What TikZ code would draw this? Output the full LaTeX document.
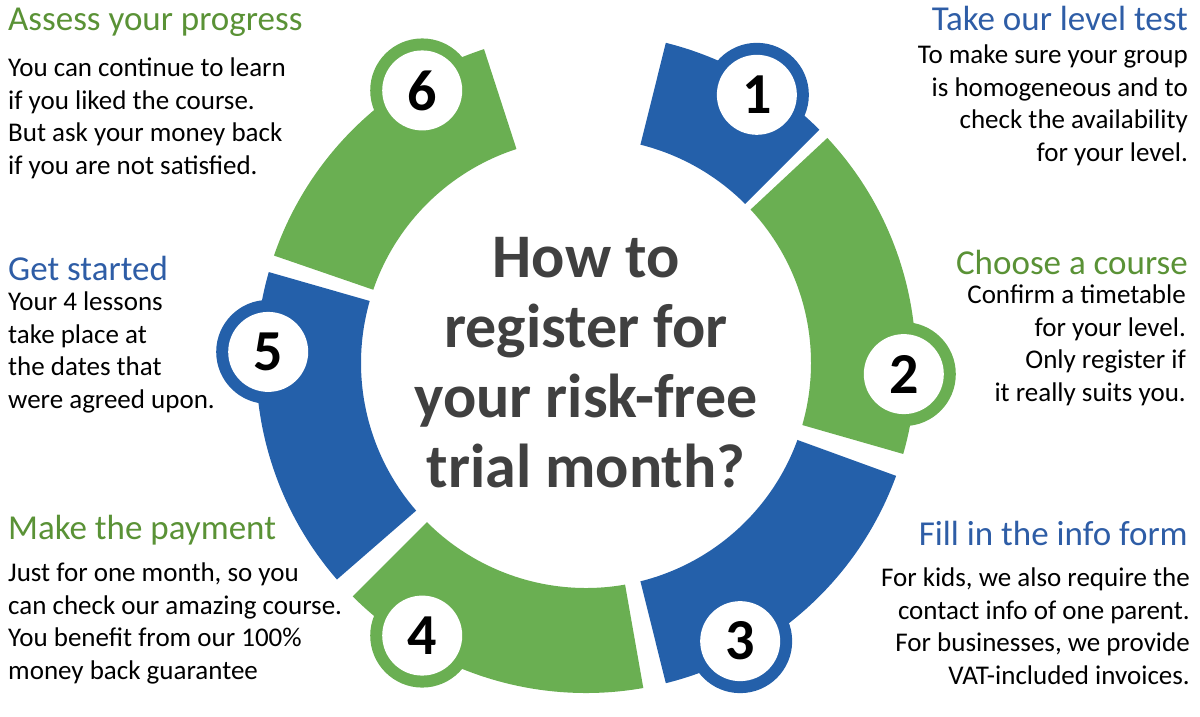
\documentclass[tikz,border=0pt]{standalone}
\usepackage{fontspec}
\setmainfont{Carlito}
\definecolor{cblue}{HTML}{2460AA}
\definecolor{cgreen}{HTML}{6AAF52}
\definecolor{tblue}{HTML}{2E5DA6}
\definecolor{tgreen}{HTML}{5A9236}
\definecolor{cdark}{HTML}{404040}
\begin{document}
\begin{tikzpicture}[x=1pt,y=-1pt,
  title/.style={font=\fontsize{35}{40}\selectfont, inner sep=0pt},
  body/.style={font=\fontsize{27}{32.5}\selectfont, inner sep=0pt},
  num/.style={circle, fill=white, minimum size=80pt, inner sep=0pt, font=\fontsize{58}{58}\selectfont\bfseries}]
\useasboundingbox (0,0) rectangle (1200,716);
\newcommand{\seg}[5]{%
  \fill[#1] (#2:225) arc[start angle=#2, end angle=#3, radius=225] -- (#3:330) arc[start angle=#3, end angle=#2, radius=330] -- cycle;
  \fill[#1] (#4:318) circle[radius=52];
  \node[num] (n#5) at (#4:318) {#5};}
\begin{scope}[shift={(586,363)}]
\seg{cblue}{-45}{-76}{-57.5}{1}
\seg{cgreen}{16}{-43}{2}{2}
\seg{cblue}{76}{20}{61}{3}
\seg{cgreen}{135}{80}{121}{4}
\seg{cblue}{196}{139}{182}{5}
\seg{cgreen}{252}{199}{239}{6}
\node[font=\fontsize{62}{70}\selectfont\bfseries, text=cdark, align=center] (center) at (0,0) {How to\\register for\\your risk-free\\trial month?};
\end{scope}
% left
\node[title, text=tgreen, anchor=west] (t6) at (8,22) {Assess your progress};
\node[body, anchor=north west, align=left] (b6) at (8,58) {You can continue to learn\\if you liked the course.\\But ask your money back\\if you are not satisfied.};
\node[title, text=tblue, anchor=west] (t5) at (8,268) {Get started};
\node[body, anchor=north west, align=left] (b5) at (8,292) {Your 4 lessons\\take place at\\the dates that\\were agreed upon.};
\node[title, text=tgreen, anchor=west] (t4) at (8,530) {Make the payment};
\node[body, anchor=north west, align=left] (b4) at (8,563) {Just for one month, so you\\can check our amazing course.\\You benefit from our 100\%\\money back guarantee};
% right
\node[title, text=tblue, anchor=east] (t1) at (1188,18) {Take our level test};
\node[body, anchor=north east, align=right] (b1) at (1188,45) {To make sure your group\\is homogeneous and to\\check the availability\\for your level.};
\node[title, text=tgreen, anchor=east] (t2) at (1188,262) {Choose a course};
\node[body, anchor=north east, align=right] (b2) at (1186,285) {Confirm a timetable\\for your level.\\Only register if\\it really suits you.};
\node[title, text=tblue, anchor=east] (t3) at (1188,533) {Fill in the info form};
\node[body, anchor=north east, align=right] (b3) at (1190,568) {For kids, we also require the\\contact info of one parent.\\For businesses, we provide\\VAT-included invoices.};
\end{tikzpicture}
\end{document}
